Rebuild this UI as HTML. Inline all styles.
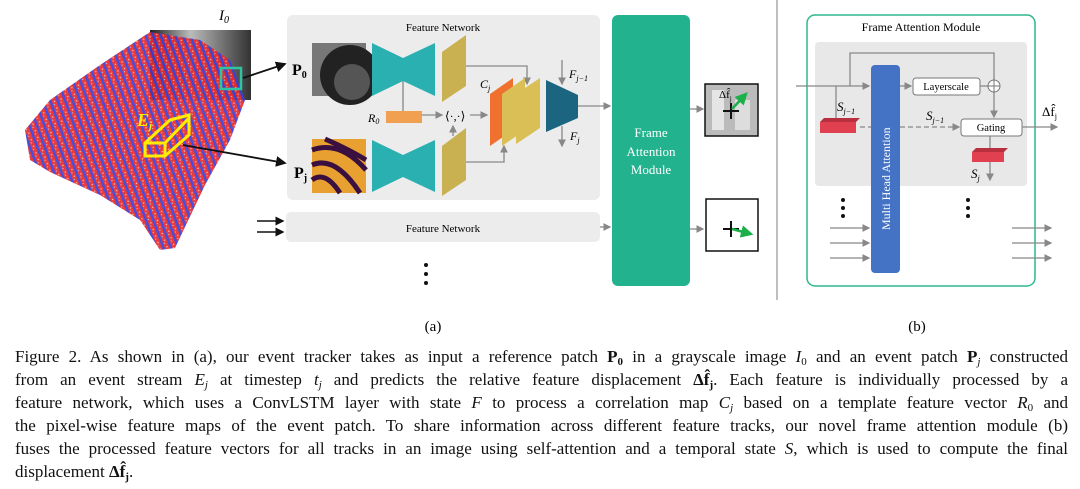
<!DOCTYPE html>
<html><head><meta charset="utf-8">
<style>
body{margin:0;width:1080px;height:489px;background:#fff;position:relative;overflow:hidden;font-family:"Liberation Serif",serif;}
.cap{position:absolute;left:15px;top:345px;width:1053px;font-size:17px;line-height:23px;color:#111;}
.cap p{margin:0;height:23px;white-space:nowrap;text-align:justify;text-align-last:justify;}
.cap p.l{text-align-last:left;}
.cap sub{font-size:11px;line-height:0;vertical-align:-3px;}
</style></head><body>
<svg width="1080" height="345" style="position:absolute;left:0;top:0" font-family="Liberation Serif, serif">
<defs>
<pattern id="pc" width="7" height="7" patternUnits="userSpaceOnUse" patternTransform="rotate(70)">
<rect width="7" height="7" fill="#e82a2a"/>
<rect x="0" y="0" width="7" height="2.4" fill="#3040e0"/>
<circle cx="2" cy="4.5" r="0.7" fill="#f6c0c0"/>
<circle cx="5" cy="5.5" r="0.6" fill="#c0c0f0"/>
</pattern>
<linearGradient id="gi" x1="0" x2="1"><stop offset="0" stop-color="#222"/><stop offset="0.4" stop-color="#bbb"/><stop offset="1" stop-color="#333"/></linearGradient>
<marker id="ar" markerWidth="6" markerHeight="6" refX="5" refY="3" orient="auto"><path d="M0,0L6,3L0,6z" fill="#888"/></marker>
<marker id="ak" markerWidth="6" markerHeight="6" refX="5" refY="3" orient="auto"><path d="M0,0L6,3L0,6z" fill="#111"/></marker>
<marker id="ag" markerWidth="5" markerHeight="5" refX="4" refY="2.5" orient="auto"><path d="M0,0L5,2.5L0,5z" fill="#1bb04a"/></marker>
</defs>
<rect x="150" y="30" width="101" height="70" fill="url(#gi)"/>
<polygon points="25,130 50,100 100,65 150,32 200,40 230,60 245,100 230,140 205,185 175,248 160,250 140,220 100,195 50,172 30,160" fill="url(#pc)" opacity="0.92"/>
<text x="219" y="20" font-size="15" font-style="italic">I<tspan font-size="10" dy="3">0</tspan></text>
<rect x="221" y="68" width="20" height="21" fill="none" stroke="#2ec4a0" stroke-width="2.5"/>
<polygon points="145,143 170,120 189,115 189,135 165,156 145,156" fill="none" stroke="#ffee00" stroke-width="3"/>
<line x1="145" y1="143" x2="165" y2="143" stroke="#ffee00" stroke-width="3"/>
<line x1="165" y1="143" x2="189" y2="118" stroke="#ffee00" stroke-width="3"/>
<line x1="165" y1="143" x2="165" y2="156" stroke="#ffee00" stroke-width="3"/>
<text x="137" y="126" font-size="18" font-weight="bold" font-style="italic" fill="#ffee00">E<tspan font-size="11" dy="3">j</tspan></text>
<line x1="243" y1="78" x2="285" y2="64" stroke="#111" stroke-width="1.8" marker-end="url(#ak)"/>
<line x1="183" y1="145" x2="285" y2="163" stroke="#111" stroke-width="1.8" marker-end="url(#ak)"/>
<line x1="257" y1="221" x2="283" y2="221" stroke="#111" stroke-width="1.5" marker-end="url(#ak)"/>
<line x1="257" y1="232" x2="283" y2="232" stroke="#111" stroke-width="1.5" marker-end="url(#ak)"/>
<rect x="287" y="15" width="313" height="185" rx="6" fill="#ececec"/>
<text x="443" y="31" font-size="11" text-anchor="middle">Feature Network</text>
<text x="292" y="75" font-size="16" font-weight="bold">P<tspan font-size="10" dy="3">0</tspan></text>
<rect x="312" y="43" width="54" height="53" fill="#777"/>
<circle cx="350" cy="75" r="30" fill="#222"/><circle cx="352" cy="82" r="18" fill="#555"/>
<text x="294" y="178" font-size="16" font-weight="bold">P<tspan font-size="10" dy="3">j</tspan></text>
<rect x="312" y="139" width="54" height="54" fill="#e8a030"/>
<path d="M312,150 Q340,140 366,170 M312,165 Q335,155 360,193 M325,139 Q350,150 366,160 M312,180 Q325,170 340,193" stroke="#3a1040" stroke-width="5" fill="none"/>
<polygon points="372,43 403,58 435,43 435,96 403,81 372,96" fill="#2ab0b0"/>
<polygon points="372,140 403,155 435,140 435,192 403,177 372,192" fill="#2ab0b0"/>
<polygon points="442,52 466,35 466,86 442,102" fill="#c9b050"/>
<polygon points="442,146 466,128 466,180 442,196" fill="#c9b050"/>
<line x1="403" y1="81" x2="403" y2="111" stroke="#888" stroke-width="1.3"/>
<rect x="386" y="111" width="36" height="12" fill="#f0a050"/>
<text x="368" y="122" font-size="12" font-style="italic">R<tspan font-size="8" dy="2">0</tspan></text>
<line x1="422" y1="115" x2="442" y2="115" stroke="#888" stroke-width="1.3" marker-end="url(#ar)"/>
<text x="445" y="120" font-size="12">⟨·,·⟩</text>
<line x1="453" y1="136" x2="453" y2="126" stroke="#888" stroke-width="1.3" marker-end="url(#ar)"/>
<line x1="470" y1="115" x2="487" y2="115" stroke="#888" stroke-width="1.3" marker-end="url(#ar)"/>
<polyline points="466,66 527,66 527,84" fill="none" stroke="#888" stroke-width="1.3" marker-end="url(#ar)"/>
<polyline points="466,162 504,162 504,146" fill="none" stroke="#888" stroke-width="1.3" marker-end="url(#ar)"/>
<polygon points="490,94 513,78 513,130 490,146" fill="#f07030"/>
<polygon points="502,94 525,78 525,130 502,146" fill="#d9bf55"/>
<polygon points="516,94 540,78 540,128 516,144" fill="#d9bf55"/>
<text x="480" y="88" font-size="12" font-style="italic">C<tspan font-size="8" dy="3">j</tspan></text>
<polygon points="546,80 578,95 578,118 546,132" fill="#1b6580"/>
<line x1="562" y1="60" x2="562" y2="84" stroke="#888" stroke-width="1.3" marker-end="url(#ar)"/>
<line x1="562" y1="126" x2="562" y2="146" stroke="#888" stroke-width="1.3" marker-end="url(#ar)"/>
<text x="569" y="78" font-size="12" font-style="italic">F<tspan font-size="8" dy="3">j−1</tspan></text>
<text x="570" y="140" font-size="12" font-style="italic">F<tspan font-size="8" dy="3">j</tspan></text>
<line x1="578" y1="106" x2="610" y2="106" stroke="#888" stroke-width="1.3" marker-end="url(#ar)"/>
<rect x="286" y="212" width="314" height="30" rx="5" fill="#ececec"/>
<text x="443" y="232" font-size="11" text-anchor="middle">Feature Network</text>
<line x1="600" y1="227" x2="610" y2="227" stroke="#888" stroke-width="1.3" marker-end="url(#ar)"/>
<circle cx="426" cy="265" r="2" fill="#111"/><circle cx="426" cy="274" r="2" fill="#111"/><circle cx="426" cy="283" r="2" fill="#111"/>
<rect x="612" y="15" width="78" height="271" rx="6" fill="#22b38e"/>
<text x="651" y="137" font-size="13" fill="#fff" text-anchor="middle">Frame</text>
<text x="651" y="156" font-size="13" fill="#fff" text-anchor="middle">Attention</text>
<text x="651" y="174" font-size="13" fill="#fff" text-anchor="middle">Module</text>
<line x1="690" y1="109" x2="703" y2="109" stroke="#888" stroke-width="1.3" marker-end="url(#ar)"/>
<line x1="690" y1="229" x2="703" y2="229" stroke="#888" stroke-width="1.3" marker-end="url(#ar)"/>
<rect x="705" y="84" width="53" height="52" fill="#bbb" stroke="#111" stroke-width="1.5"/>
<rect x="712" y="90" width="12" height="40" fill="#e5e5e5"/><rect x="735" y="100" width="15" height="30" fill="#ddd"/>
<path d="M731,103v16M723,111h16" stroke="#111" stroke-width="2"/>
<line x1="732" y1="109" x2="746" y2="94" stroke="#1bb04a" stroke-width="2.5" marker-end="url(#ag)"/>
<text x="719" y="98" font-size="11">Δf̂<tspan font-size="7" dy="3">j</tspan></text>
<rect x="706" y="199" width="52" height="52" fill="#fff" stroke="#111" stroke-width="1.5"/>
<path d="M731,221v16M723,229h16" stroke="#111" stroke-width="2"/>
<line x1="732" y1="229" x2="751" y2="234" stroke="#1bb04a" stroke-width="2.5" marker-end="url(#ag)"/>
<line x1="777" y1="0" x2="777" y2="300" stroke="#aaa" stroke-width="1.5"/>
<rect x="807" y="15" width="228" height="271" rx="8" fill="#fff" stroke="#2fb78f" stroke-width="1.5"/>
<text x="921" y="31" font-size="12" text-anchor="middle">Frame  Attention Module</text>
<rect x="815" y="42" width="212" height="144" rx="4" fill="#e8e8e8"/>
<line x1="796" y1="86" x2="869" y2="86" stroke="#888" stroke-width="1.3" marker-end="url(#ar)"/>
<polyline points="850,86 850,53 994,53 994,117" fill="none" stroke="#888" stroke-width="1.3" marker-end="url(#ar)"/>
<line x1="836" y1="86" x2="836" y2="120" stroke="#888" stroke-width="1.3"/>
<text x="837" y="111" font-size="13" font-style="italic">S<tspan font-size="8" dy="3">j−1</tspan></text>
<polygon points="820,122 824,118 860,118 856,122" fill="#b83040"/>
<rect x="820" y="122" width="36" height="11" fill="#e04050"/>
<line x1="860" y1="127" x2="871" y2="127" stroke="#888" stroke-width="1.3" stroke-dasharray="5,3"/>
<line x1="900" y1="127" x2="959" y2="127" stroke="#888" stroke-width="1.3" stroke-dasharray="5,3" marker-end="url(#ar)"/>
<text x="926" y="120" font-size="13" font-style="italic">S<tspan font-size="8" dy="3">j−1</tspan></text>
<rect x="871" y="65" width="29" height="208" rx="4" fill="#4472c4"/>
<text transform="translate(890,230) rotate(-90)" font-size="12" fill="#fff">Multi Head Attention</text>
<line x1="900" y1="86" x2="911" y2="86" stroke="#888" stroke-width="1.3" marker-end="url(#ar)"/>
<rect x="913" y="78" width="67" height="17" rx="3" fill="#fff" stroke="#777"/>
<text x="946" y="90" font-size="10.5" text-anchor="middle">Layerscale</text>
<line x1="980" y1="86" x2="988" y2="86" stroke="#888" stroke-width="1.3"/>
<circle cx="994" cy="86" r="6" fill="#fff" stroke="#777"/><path d="M988,86h12M994,80v12" stroke="#777"/>
<rect x="961" y="119" width="61" height="17" rx="3" fill="#fff" stroke="#777"/>
<text x="991" y="131" font-size="10.5" text-anchor="middle">Gating</text>
<line x1="1022" y1="127" x2="1057" y2="127" stroke="#888" stroke-width="1.3" marker-end="url(#ar)"/>
<text x="1042" y="116" font-size="13">Δf̂<tspan font-size="8" dy="3">j</tspan></text>
<line x1="990" y1="136" x2="990" y2="180" stroke="#888" stroke-width="1.3" marker-end="url(#ar)"/>
<polygon points="972,152 976,148 1008,148 1004,152" fill="#b83040"/>
<rect x="972" y="152" width="32" height="10" fill="#e04050"/>
<text x="971" y="178" font-size="13" font-style="italic">S<tspan font-size="8" dy="3">j</tspan></text>
<circle cx="843" cy="200" r="2" fill="#111"/><circle cx="843" cy="208" r="2" fill="#111"/><circle cx="843" cy="216" r="2" fill="#111"/>
<circle cx="968" cy="200" r="2" fill="#111"/><circle cx="968" cy="208" r="2" fill="#111"/><circle cx="968" cy="216" r="2" fill="#111"/>
<g stroke="#888" stroke-width="1.3" marker-end="url(#ar)">
<line x1="830" y1="228" x2="869" y2="228"/><line x1="830" y1="243" x2="869" y2="243"/><line x1="830" y1="258" x2="869" y2="258"/>
<line x1="1012" y1="228" x2="1051" y2="228"/><line x1="1012" y1="243" x2="1051" y2="243"/><line x1="1012" y1="258" x2="1051" y2="258"/>
</g>
<text x="433" y="331" font-size="15" text-anchor="middle">(a)</text>
<text x="917" y="331" font-size="15" text-anchor="middle">(b)</text>
</svg>
<div class="cap">
<p>Figure 2. As shown in (a), our event tracker takes as input a reference patch <b>P<sub>0</sub></b> in a grayscale image <i>I</i><sub>0</sub> and an event patch <b>P</b><sub><i>j</i></sub> constructed</p>
<p>from an event stream <i>E<sub>j</sub></i> at timestep <i>t<sub>j</sub></i> and predicts the relative feature displacement <b>Δf̂<sub>j</sub></b>. Each feature is individually processed by a</p>
<p>feature network, which uses a ConvLSTM layer with state <i>F</i> to process a correlation map <i>C<sub>j</sub></i> based on a template feature vector <i>R</i><sub>0</sub> and</p>
<p>the pixel-wise feature maps of the event patch. To share information across different feature tracks, our novel frame attention module (b)</p>
<p>fuses the processed feature vectors for all tracks in an image using self-attention and a temporal state <i>S</i>, which is used to compute the final</p>
<p class="l">displacement <b>Δf̂<sub>j</sub></b>.</p>
</div>
</body></html>
